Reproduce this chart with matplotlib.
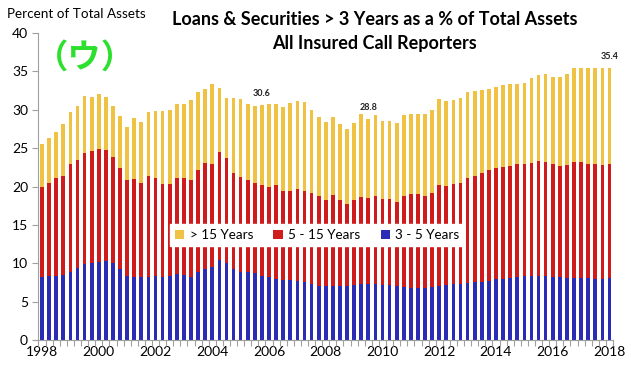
import numpy as np
import matplotlib
matplotlib.use("Agg")
import matplotlib.pyplot as plt

plt.rcParams['font.family'] = ['Lato', 'DejaVu Sans']

# Quarterly observations, 1998 .. 2018 (81 quarters)
years = [1998, 2000, 2002, 2004, 2006, 2008, 2010, 2012, 2014, 2016, 2018]

# 3 - 5 years (bottom segment), % of total assets
yrs_3_5 = [8.25, 8.4, 8.3, 8.5, 8.9, 9.4, 9.9, 10.0, 10.1, 10.3,
           10.0, 9.3, 8.4, 8.25, 8.25, 8.25, 8.3, 8.25, 8.3, 8.55,
           8.5, 8.25, 8.9, 9.2, 9.5, 10.4, 10.0, 9.3, 8.9, 8.9,
           8.7, 8.3, 8.2, 7.9, 7.8, 7.8, 7.7, 7.5, 7.3, 7.1,
           7.0, 7.1, 7.1, 7.1, 7.2, 7.3, 7.3, 7.3, 7.2, 7.2,
           7.0, 6.9, 6.8, 6.8, 6.8, 6.9, 7.0, 7.2, 7.3, 7.3,
           7.4, 7.5, 7.6, 7.7, 7.9, 8.0, 8.1, 8.2, 8.3, 8.3,
           8.3, 8.3, 8.2, 8.2, 8.1, 8.1, 8.1, 8.1, 8.0, 8.0,
           8.1]

# 3 - 15 years combined (top of red segment)
yrs_3_15 = [20.0, 20.5, 21.1, 21.4, 22.9, 23.4, 24.4, 24.6, 24.9, 24.7,
            23.8, 22.4, 20.8, 21.0, 20.4, 21.4, 21.1, 20.3, 20.3, 21.1,
            21.1, 20.8, 22.2, 23.1, 22.9, 24.5, 23.7, 21.7, 21.3, 20.8,
            20.4, 20.2, 19.9, 20.2, 19.4, 19.4, 19.7, 19.4, 19.1, 18.8,
            18.3, 18.9, 18.3, 17.7, 18.2, 18.6, 18.5, 18.7, 18.4, 18.4,
            18.0, 18.8, 19.0, 19.0, 18.7, 19.2, 20.2, 20.1, 20.3, 20.4,
            21.1, 21.4, 21.7, 22.1, 22.4, 22.6, 22.7, 22.9, 22.9, 23.1,
            23.3, 23.2, 22.9, 22.7, 22.8, 23.2, 23.2, 22.9, 22.9, 22.8,
            22.9]

# All loans & securities > 3 years (bar total)
total_gt3 = [25.5, 26.3, 27.1, 28.1, 29.7, 30.5, 31.8, 31.7, 32.0, 31.6,
             30.5, 29.2, 27.8, 28.9, 28.4, 29.7, 29.8, 29.8, 30.0, 30.7,
             30.7, 31.3, 32.3, 32.7, 33.3, 32.8, 31.5, 31.5, 31.4, 30.8,
             30.5, 30.6, 30.7, 30.7, 30.3, 30.9, 31.2, 31.0, 30.0, 29.1,
             28.4, 29.1, 28.2, 27.5, 28.3, 29.4, 28.8, 29.3, 28.5, 28.5,
             28.3, 29.3, 29.4, 29.4, 29.4, 30.0, 31.4, 31.1, 31.3, 31.5,
             32.3, 32.4, 32.6, 32.7, 33.0, 33.2, 33.3, 33.3, 33.5, 34.1,
             34.5, 34.7, 34.3, 34.3, 34.6, 35.4, 35.4, 35.4, 35.4, 35.4,
             35.4]

# labelled quarters: (index, label)
label_idx = [31, 46, 80]
label_txt = ["30.6", "28.8", "35.4"]

blue = np.array(yrs_3_5)
red = np.array(yrs_3_15) - blue
yellow = np.array(total_gt3) - np.array(yrs_3_15)
x = np.arange(len(blue))

c_blue = '#2B2BB5'
c_red = '#CF1B1B'
c_yel = '#EFC244'

fig = plt.figure(figsize=(6.31, 3.76), dpi=100)
ax = fig.add_axes([0.061, 0.0957, 0.9105, 0.8165])

w = 0.52
ax.bar(x, blue, w, color=c_blue, label='3 - 5 Years', zorder=2)
ax.bar(x, red, w, bottom=blue, color=c_red, label='5 - 15 Years', zorder=2)
ax.bar(x, yellow, w, bottom=blue + red, color=c_yel, label='> 15 Years', zorder=2)

ax.set_xlim(-0.5, len(x) - 0.5)
ax.set_ylim(0, 40)
ax.set_yticks(np.arange(0, 41, 5))
ax.set_xticks([(y - 1998) * 4 for y in years])
ax.set_xticklabels([str(y) for y in years])
ax.set_xticks(np.arange(-0.5, len(x), 1), minor=True)
ax.tick_params(axis='x', which='major', length=0, labelsize=10, pad=4)
ax.tick_params(axis='x', which='minor', length=4, color='#A0A0A0', width=0.8)
ax.tick_params(axis='y', labelsize=10, length=4, color='#A0A0A0', width=0.8)
for s in ['top', 'right']:
    ax.spines[s].set_visible(False)
for s in ['left', 'bottom']:
    ax.spines[s].set_color('#A0A0A0')
    ax.spines[s].set_linewidth(0.8)

for i, t in zip(label_idx, label_txt):
    ax.annotate(t, (x[i], total_gt3[i]), xytext=(0, 5), textcoords='offset points',
                ha='center', va='bottom', fontsize=6.5, fontweight='bold', color='#222222')

handles, labels = ax.get_legend_handles_labels()
leg = ax.legend(handles[::-1], labels[::-1], ncol=3, loc='center',
                bbox_to_anchor=(0.485, 0.342), frameon=True, fontsize=9.7,
                handlelength=0.7, handleheight=0.7, handletextpad=0.4,
                columnspacing=1.5, borderpad=0.35, fancybox=False)
leg.get_frame().set_edgecolor('white')
leg.get_frame().set_facecolor('white')
leg.get_frame().set_alpha(1)
leg.set_zorder(5)

fig.text(0.011, 0.962, 'Percent of Total Assets', fontsize=9.7, ha='left', va='center')
fig.text(0.594, 0.947, 'Loans & Securities > 3 Years as a % of Total Assets',
         fontsize=13, fontweight='bold', ha='center', va='center')
fig.text(0.594, 0.883, 'All Insured Call Reporters',
         fontsize=13, fontweight='bold', ha='center', va='center')
fig.text(0.134, 0.846, '（ウ）', fontsize=24, fontweight='bold', color='#2EE02E',
         ha='center', va='center', family=['Noto Sans CJK JP', 'DejaVu Sans'])

fig.savefig('out.png', dpi=100)
